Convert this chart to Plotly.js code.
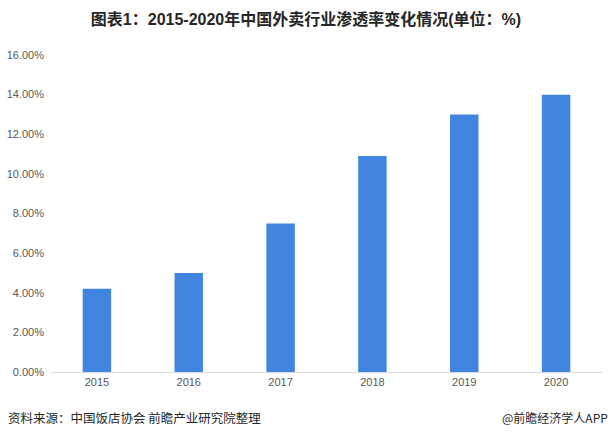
<!DOCTYPE html>
<html>
<head>
<meta charset="utf-8">
<script src="https://cdn.plot.ly/plotly-3.0.1.min.js"></script>
<style>html,body{margin:0;padding:0;background:#fff;}#chart{width:612px;height:439px;}</style>
</head>
<body>
<div id="chart"></div>
<script>
const years = ["2015", "2016", "2017", "2018", "2019", "2020"];
const penetration = [4.2, 5.0, 7.5, 10.9, 13.0, 14.0];
const yTickVals = [0, 2, 4, 6, 8, 10, 12, 14, 16];
const yTickText = ["0.00%", "2.00%", "4.00%", "6.00%", "8.00%", "10.00%", "12.00%", "14.00%", "16.00%"];
const titleText = "图表1：2015-2020年中国外卖行业渗透率变化情况(单位：%)";
const sourceText = "资料来源：中国饭店协会 前瞻产业研究院整理";
const brandText = "@前瞻经济学人APP";

const trace = {
  type: "bar",
  x: years,
  y: penetration,
  marker: {color: "#4285E1"},
  width: 0.31,
  hoverinfo: "x+y"
};

const layout = {
  width: 612, height: 439,
  margin: {l: 51, r: 10, t: 55, b: 67},
  paper_bgcolor: "#fff", plot_bgcolor: "#fff",
  showlegend: false,
  title: {text: "<b>" + titleText + "</b>", x: 0.5, xanchor: "center", y: 0.955, yanchor: "middle",
    font: {family: "Liberation Sans, Noto Sans CJK SC, sans-serif", size: 16, color: "#262626"}},
  xaxis: {
    type: "category",
    showline: true, linecolor: "#D9D9D9", linewidth: 1,
    ticks: "", showgrid: false,
    tickfont: {family: "Liberation Sans, Noto Sans CJK SC, sans-serif", size: 11, color: "#595959"}
  },
  yaxis: {
    range: [0, 16], tickmode: "array", tickvals: yTickVals, ticktext: yTickText,
    showgrid: false, zeroline: false, showline: false, ticks: "",
    ticklabelstandoff: 6,
    tickfont: {family: "Liberation Sans, Noto Sans CJK SC, sans-serif", size: 11, color: "#595959"}
  },
  annotations: [
    {text: sourceText, xref: "paper", yref: "paper", x: -0.081, y: -0.145, xanchor: "left", yanchor: "middle",
      showarrow: false, font: {family: "Noto Sans CJK SC, sans-serif", size: 12.5, color: "#262626"}},
    {text: brandText, xref: "paper", yref: "paper", x: 1.015, y: -0.145, xanchor: "right", yanchor: "middle",
      showarrow: false, font: {family: "Noto Sans CJK SC, sans-serif", size: 12, color: "#262626"}}
  ]
};

Plotly.newPlot("chart", [trace], layout, {displayModeBar: false, staticPlot: true});
</script>
</body>
</html>
